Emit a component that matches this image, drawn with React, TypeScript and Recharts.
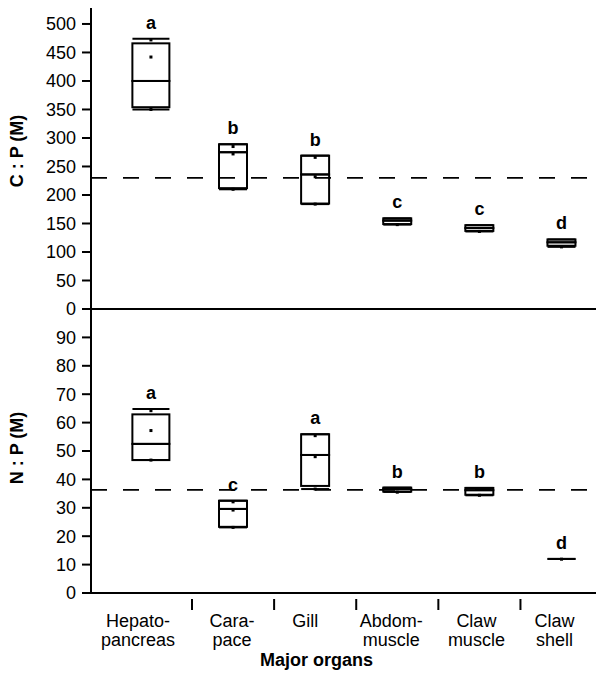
import { ComposedChart, Bar, Scatter, XAxis, YAxis, ReferenceLine } from "recharts";

// organ names, split over two lines as in the figure
const organs = [
  ["Hepato-", "pancreas"],
  ["Cara-", "pace"],
  ["Gill"],
  ["Abdom-", "muscle"],
  ["Claw", "muscle"],
  ["Claw", "shell"],
];

// C:P (molar) box values
const cpLow = [350, 210, 184, 148, 136, 109];
const cpQ1 = [354, 212, 185, 149, 137, 111];
const cpMed = [400, 275, 236, 155, 142, 117];
const cpQ3 = [466, 289, 269, 159, 147, 122];
const cpHigh = [474, 289, 269, 159, 147, 122];
const cpDots = [[472, 442, 350], [285, 272, 210], [266, 232, 184], [148], [136], [109]];
const cpLetters = ["a", "b", "b", "c", "c", "d"];
const cpTicks = [0, 50, 100, 150, 200, 250, 300, 350, 400, 450, 500];
const cpRef = 230;

// N:P (molar) box values
const npLow = [46.8, 23.1, 36.6, 35.6, 34.4, 12];
const npQ1 = [46.8, 23.3, 37.7, 35.7, 34.6, 12];
const npMed = [52.5, 29.6, 48.6, 36.6, 36.2, 12];
const npQ3 = [62.9, 32.5, 55.9, 37.1, 37, 12];
const npHigh = [64.8, 32.5, 55.9, 37.1, 37, 12];
const npDots = [[64.2, 57.2, 46.8], [32.1, 29.2, 23.1], [55.4, 48, 36.6], [35.5], [34.4], [11.9]];
const npLetters = ["a", "c", "a", "b", "b", "d"];
const npTicks = [0, 10, 20, 30, 40, 50, 60, 70, 80, 90];
const npRef = 36.3;

const FONT = "'Liberation Sans', Arial, Helvetica, sans-serif";
const X_DOMAIN = [-0.73, 5.42];
const PLOT_W = 505;
const HALF_STEP = PLOT_W / (X_DOMAIN[1] - X_DOMAIN[0]) / 2;
const labelShift = [-13, -1, -10, -6, -3, -7];

const buildRows = (low: number[], q1: number[], med: number[], q3: number[], high: number[], letters: string[]) =>
  organs.map((_, i) => ({
    pos: i,
    low: low[i],
    high: high[i],
    base: q1[i],
    lowerSpan: med[i] - q1[i],
    upperSpan: q3[i] - med[i],
    letter: letters[i],
  }));

const buildDots = (dots: number[][]) =>
  dots.flatMap((vals, i) => vals.map((v) => ({ pos: i, v })));

const boxWidth = (pos: number) => (pos === 0 ? 37 : 28);

const BoxPart = (props: any) => {
  const { x, y, width, height, payload } = props;
  if (!height || height <= 0) return <g />;
  const w = boxWidth(payload.pos);
  const cx = x + width / 2;
  return <rect x={cx - w / 2} y={y} width={w} height={height} fill="none" stroke="#000" strokeWidth={2} />;
};

const Cap = (props: any) => {
  const { cx, cy, payload } = props;
  const w = boxWidth(payload.pos);
  return <line x1={cx - w / 2} x2={cx + w / 2} y1={cy} y2={cy} stroke="#000" strokeWidth={2} />;
};

const Dot = (props: any) => {
  const { cx, cy } = props;
  return <rect x={cx - 1.5} y={cy - 1.5} width={3} height={3} fill="#000" />;
};

const Letter = (props: any) => {
  const { cx, cy, payload } = props;
  return (
    <text x={cx} y={cy - 10} textAnchor="middle" fontFamily={FONT} fontWeight="bold" fontSize={18} fill="#000">
      {payload.letter}
    </text>
  );
};

const OrganTick = (props: any) => {
  const { x, y, payload } = props;
  const i = payload.value as number;
  const lines = organs[i] || [];
  return (
    <g>
      {i > 0 && <line x1={x - HALF_STEP} x2={x - HALF_STEP} y1={y} y2={y + 11} stroke="#000" strokeWidth={2} />}
      {lines.map((t, j) => (
        <text key={j} x={x + labelShift[i]} y={y + 28 + j * 18.5} textAnchor="middle" fontFamily={FONT} fontSize={18} fill="#000">
          {t}
        </text>
      ))}
    </g>
  );
};

const axisStyle = { stroke: "#000", strokeWidth: 2 };
const tickStyle = { fill: "#000", fontSize: 18, fontFamily: FONT };

const Panel = ({ rows, dots, ticks, domain, refValue, bottom }: any) => (
  <ComposedChart
    width={596}
    height={bottom ? 369 : 320}
    data={rows}
    margin={{ top: bottom ? 0 : 8, right: 0, bottom: bottom ? 0 : 11, left: 0 }}
  >
    <XAxis
      type="number"
      dataKey="pos"
      domain={X_DOMAIN}
      allowDataOverflow
      ticks={[0, 1, 2, 3, 4, 5]}
      interval={0}
      hide={!bottom}
      height={85}
      axisLine={axisStyle}
      tickLine={false}
      tickMargin={0}
      tick={<OrganTick />}
    />
    <YAxis
      type="number"
      width={91}
      domain={domain}
      allowDataOverflow
      ticks={ticks}
      interval={0}
      axisLine={axisStyle}
      tickLine={axisStyle}
      tickSize={9}
      tickMargin={6}
      tick={tickStyle}
    />
    {!bottom && <ReferenceLine y={0} stroke="#000" strokeWidth={2} />}
    <ReferenceLine y={refValue} stroke="#000" strokeWidth={1.6} strokeDasharray="16 16" />
    <Bar dataKey="base" stackId="box" barSize={28} shape={() => <g />} isAnimationActive={false} />
    <Bar dataKey="lowerSpan" stackId="box" barSize={28} shape={<BoxPart />} isAnimationActive={false} />
    <Bar dataKey="upperSpan" stackId="box" barSize={28} shape={<BoxPart />} isAnimationActive={false} />
    <Scatter dataKey="low" shape={<Cap />} isAnimationActive={false} />
    <Scatter dataKey="high" shape={<Cap />} isAnimationActive={false} />
    <Scatter data={dots} dataKey="v" shape={<Dot />} isAnimationActive={false} />
    <Scatter dataKey="high" shape={<Letter />} isAnimationActive={false} />
  </ComposedChart>
);

const sideLabel = (text: string, cy: number) => (
  <div
    style={{
      position: "absolute",
      left: 17 - 100,
      top: cy - 10,
      width: 200,
      height: 20,
      lineHeight: "20px",
      textAlign: "center",
      transform: "rotate(-90deg)",
      fontFamily: FONT,
      fontWeight: "bold",
      fontSize: 18,
      color: "#000",
    }}
  >
    {text}
  </div>
);

export default function App() {
  const cpRows = buildRows(cpLow, cpQ1, cpMed, cpQ3, cpHigh, cpLetters);
  const npRows = buildRows(npLow, npQ1, npMed, npQ3, npHigh, npLetters);
  return (
    <div style={{ position: "absolute", left: 0, top: 0, width: 596, height: 678, background: "#fff", overflow: "hidden" }}>
      <div style={{ position: "absolute", left: 0, top: 309 }}>
        <Panel rows={npRows} dots={buildDots(npDots)} ticks={npTicks} domain={[0, 100]} refValue={npRef} bottom={true} />
      </div>
      <div style={{ position: "absolute", left: 0, top: 0 }}>
        <Panel rows={cpRows} dots={buildDots(cpDots)} ticks={cpTicks} domain={[0, 528]} refValue={cpRef} bottom={false} />
      </div>
      {sideLabel("C : P (M)", 151)}
      {sideLabel("N : P (M)", 448)}
      <div
        style={{
          position: "absolute",
          left: 216.5,
          top: 650,
          width: 200,
          lineHeight: "20px",
          textAlign: "center",
          fontFamily: FONT,
          fontWeight: "bold",
          fontSize: 18,
          color: "#000",
        }}
      >
        Major organs
      </div>
    </div>
  );
}
